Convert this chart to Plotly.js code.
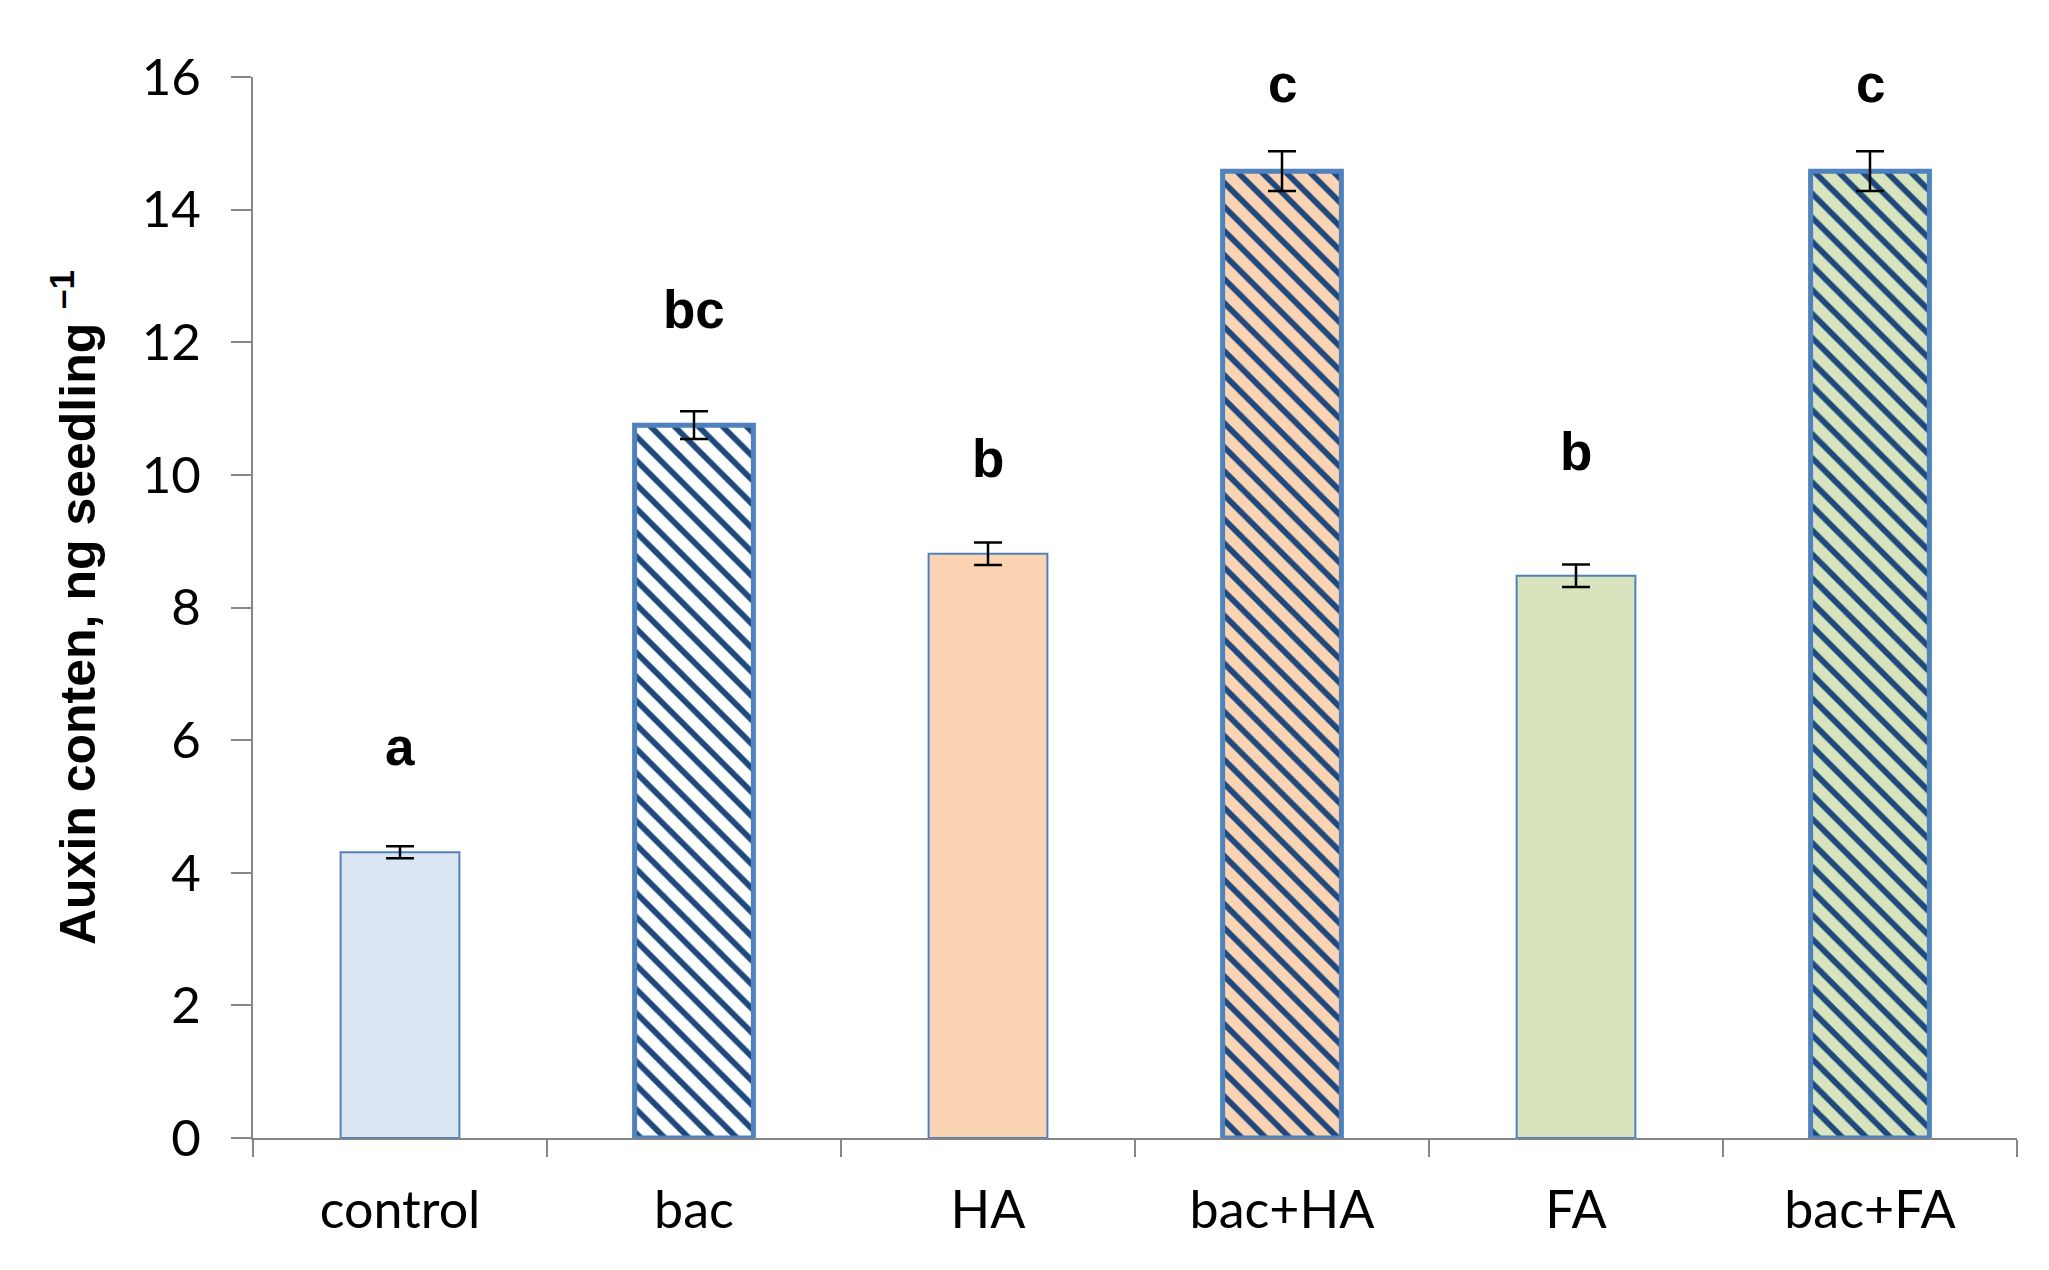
<!DOCTYPE html>
<html>
<head>
<meta charset="utf-8">
<script src="https://cdn.plot.ly/plotly-3.0.1.min.js"></script>
<style>
html,body{margin:0;padding:0;background:#fff;}
#chart{width:2049px;height:1270px;}
</style>
</head>
<body>
<div id="chart"></div>
<script>
// ---- data ----
var categories = ["control", "bac", "HA", "bac+HA", "FA", "bac+FA"];
var auxin = [4.31, 10.75, 8.81, 14.58, 8.48, 14.58];
var auxinErr = [0.09, 0.21, 0.17, 0.30, 0.17, 0.30];
var letters = ["a", "bc", "b", "c", "b", "c"];
var letterY = [5.9, 12.5, 10.25, 15.9, 10.35, 15.9];
var yTicks = [0, 2, 4, 6, 8, 10, 12, 14, 16];

// ---- styles ----
var fillColors = ["#DCE6F2", "#FFFFFF", "#FBD4B4", "#FBD4B4", "#D7E4BD", "#D7E4BD"];
var hatchShapes = ["", "\\", "", "\\", "", "\\"];
var hatchColors = ["rgba(0,0,0,0)", "#1F497D", "rgba(0,0,0,0)", "#1F497D", "rgba(0,0,0,0)", "#1F497D"];
var lineWidths = [2, 5, 2, 5, 2, 5];

// background fill of every bar
var fillTrace = {
  type: "bar",
  x: categories,
  y: auxin,
  width: 0.404,
  marker: {color: fillColors, line: {width: 0}},
  hoverinfo: "skip",
  showlegend: false
};

// hatch overlay, outline and error bars
var hatchTrace = {
  type: "bar",
  x: categories,
  y: auxin,
  width: 0.404,
  marker: {
    color: hatchColors,
    line: {color: "#4F81BD", width: lineWidths},
    pattern: {
      shape: hatchShapes,
      size: 17,
      solidity: 0.34,
      fillmode: "replace"
    }
  },
  error_y: {
    type: "data",
    array: auxinErr,
    visible: true,
    color: "#000000",
    thickness: 2.5,
    width: 14
  },
  hoverinfo: "x+y",
  showlegend: false
};

var annotations = categories.map(function (c, i) {
  return {
    x: c, y: letterY[i], xref: "x", yref: "y",
    text: letters[i], showarrow: false,
    font: {family: "Liberation Sans, Arial, sans-serif", size: 53, color: "#000", weight: "bold"},
    xanchor: "center", yanchor: "middle"
  };
});

var layout = {
  width: 2049,
  height: 1270,
  margin: {l: 253, r: 32, t: 77, b: 132},
  paper_bgcolor: "#fff",
  plot_bgcolor: "#fff",
  showlegend: false,
  barmode: "overlay",
  bargap: 0.596,
  xaxis: {
    type: "category",
    tickson: "boundaries",
    ticks: "outside",
    ticklen: 17,
    tickwidth: 2,
    tickcolor: "#868686",
    showline: true,
    linecolor: "#868686",
    linewidth: 2,
    showgrid: false,
    zeroline: false,
    tickfont: {family: "Lato, Carlito, Calibri, sans-serif", size: 52, color: "#000"},
    ticklabelstandoff: 26
  },
  yaxis: {
    range: [0, 16],
    tickvals: yTicks,
    ticktext: yTicks.map(String),
    ticks: "outside",
    ticklen: 20,
    tickwidth: 2,
    tickcolor: "#868686",
    showline: true,
    linecolor: "#868686",
    linewidth: 2,
    showgrid: false,
    zeroline: false,
    tickfont: {family: "Lato, Carlito, Calibri, sans-serif", size: 51, color: "#000"},
    ticklabelstandoff: 20,
    title: {
      text: "<b>Auxin conten, ng seedling <sup>–1</sup></b>",
      font: {family: "Liberation Sans, Arial, sans-serif", size: 50, color: "#000"},
      standoff: 30
    },
    automargin: false
  },
  annotations: annotations
};

Plotly.newPlot("chart", [fillTrace, hatchTrace], layout, {displayModeBar: false, staticPlot: true});
</script>
</body>
</html>
